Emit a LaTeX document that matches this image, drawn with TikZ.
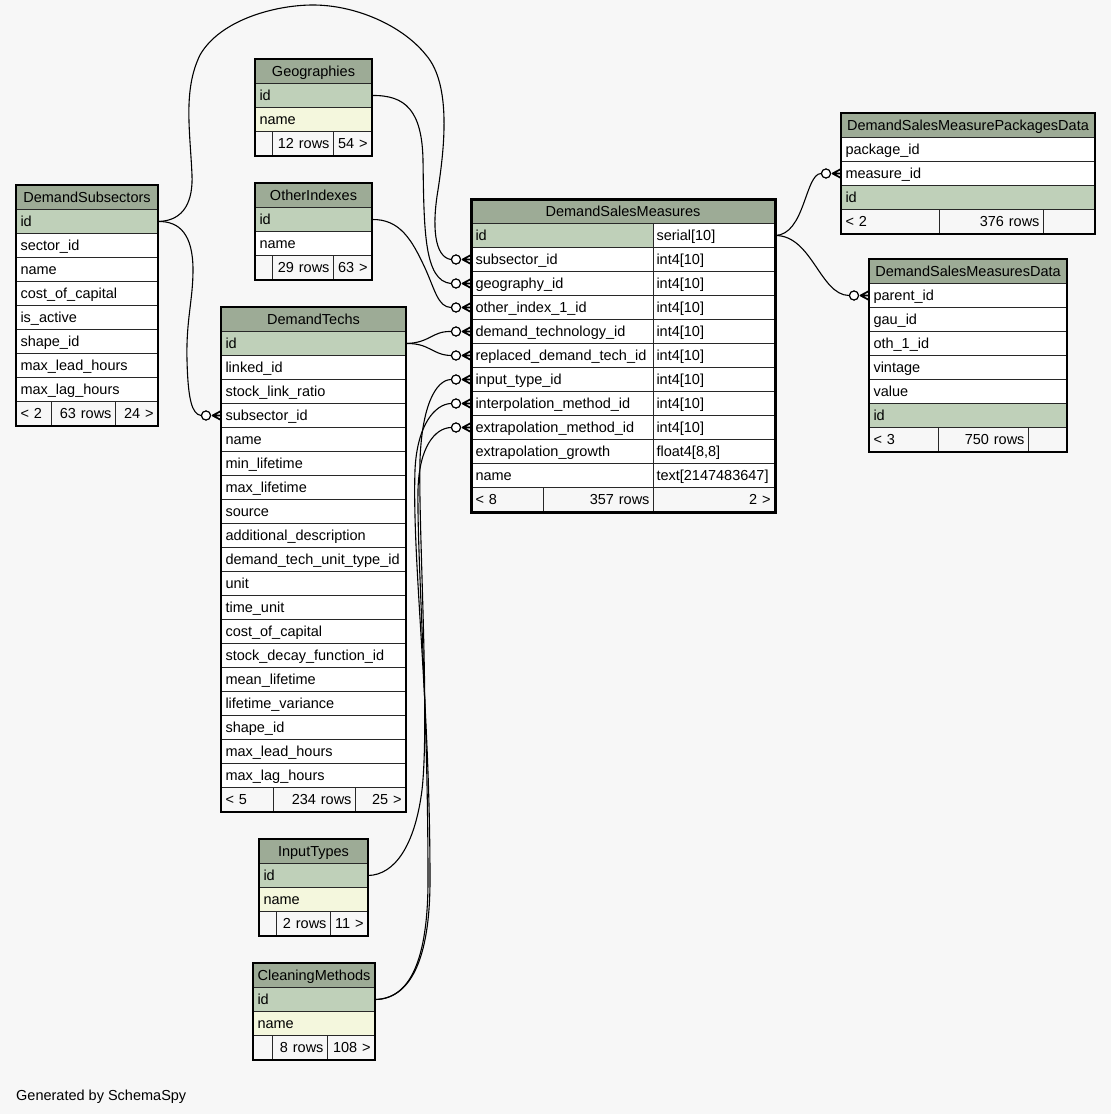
\documentclass[tikz,border=0pt]{standalone}
\usepackage{fontspec}
\setmainfont{Liberation Sans}
\definecolor{bgc}{RGB}{247,247,247}
\definecolor{headc}{RGB}{157,171,150}
\definecolor{pkc}{RGB}{191,208,185}
\definecolor{nmc}{RGB}{244,247,221}
\definecolor{footc}{RGB}{247,247,247}
\definecolor{gridc}{RGB}{40,40,40}
\newcommand\rowfont{\fontsize{14.5}{16}\selectfont}

\tikzset{
  cell/.style={draw=gridc, line width=1pt, fill=white, anchor=north west,
    minimum height=24pt, inner xsep=4pt, inner ysep=0pt, align=left,
    text height=12pt, text depth=2pt, font=\rowfont},
  headcell/.style={cell, fill=headc, align=center},
  footl/.style={cell, fill=footc, align=left},
  footr/.style={cell, fill=footc, align=right},
  tframe/.style={draw=black, line width=1.6pt},
  rel/.style={draw=black, line width=1.1pt},
  crow/.style={draw=black, line width=1.7pt, line cap=round},
  fkdot/.style={circle, draw=black, fill=white, line width=1.1pt, inner sep=0pt, minimum size=9pt},
}

% table: prefix, x, y, width, title, rows (text/fill)
\newcommand\dbtable[6]{%
  \pgfmathsetmacro\tw{#4-8}%
  \node[headcell, text width=\tw pt] (#1-0) at (#2,#3) {#5};
  \foreach \t/\f [count=\i] in {#6}{
    \node[cell, fill=\f, text width=\tw pt] (#1-\i) at (#2,{#3+24*\i}) {\t};
  }
}
% footer: prefix, x, y, three widths, three texts
\newcommand\dbfoot[9]{%
  \pgfmathsetmacro\xb{#2+#4}\pgfmathsetmacro\xc{#2+#4+#5}%
  \pgfmathsetmacro\wa{#4-8}\pgfmathsetmacro\wb{#5-8}\pgfmathsetmacro\wc{#6-8}%
  \node[footl, text width=\wa pt] (#1-f1) at (#2,#3) {#7};
  \node[footr, text width=\wb pt] (#1-f2) at (\xb,#3) {#8};
  \node[footr, text width=\wc pt] (#1-f3) at (\xc,#3) {#9};
}
% foreign key end: open circle plus crow's foot at the row's west side
\newcommand\fkend[2]{%
  \node[fkdot] (#1) at ([xshift=-15pt]#2.west) {};
  \draw[crow] ([xshift=1.5pt]#1.east) -- ([yshift=4.5pt]#2.west)
              ([xshift=1.5pt]#1.east) -- (#2.west)
              ([xshift=1.5pt]#1.east) -- ([yshift=-4.5pt]#2.west);
}

\begin{document}
\hyphenpenalty=10000
\begin{tikzpicture}[x=1pt,y=-1pt]
\useasboundingbox (0,0) rectangle (1111,1114);
\fill[bgc] (0,0) rectangle (1111,1114);

% ---- tables ----
\dbtable{dsub}{16}{185}{141}{DemandSubsectors}{id/pkc, sector\_id/white, name/white, cost\_of\_capital/white, is\_active/white, shape\_id/white, max\_lead\_hours/white, max\_lag\_hours/white}
\dbfoot{dsub}{16}{401}{35}{64}{42}{< 2}{63 rows}{24 >}

\dbtable{geo}{255}{59}{116}{Geographies}{id/pkc, name/nmc}
\dbfoot{geo}{255}{131}{17}{61}{38}{}{12 rows}{54 >}

\dbtable{oth}{255}{183}{116}{OtherIndexes}{id/pkc, name/white}
\dbfoot{oth}{255}{255}{17}{61}{38}{}{29 rows}{63 >}

\dbtable{tech}{221}{307}{184}{DemandTechs}{id/pkc, linked\_id/white, stock\_link\_ratio/white, subsector\_id/white, name/white, min\_lifetime/white, max\_lifetime/white, source/white, additional\_description/white, demand\_tech\_unit\_type\_id/white, unit/white, time\_unit/white, cost\_of\_capital/white, stock\_decay\_function\_id/white, mean\_lifetime/white, lifetime\_variance/white, shape\_id/white, max\_lead\_hours/white, max\_lag\_hours/white}
\dbfoot{tech}{221}{787}{52}{82}{50}{< 5}{234 rows}{25 >}

\dbtable{inp}{259}{839}{108}{InputTypes}{id/pkc, name/nmc}
\dbfoot{inp}{259}{911}{17}{54}{37}{}{2 rows}{11 >}

\dbtable{cln}{253}{963}{121}{CleaningMethods}{id/pkc, name/nmc}
\dbfoot{cln}{253}{1035}{19}{55}{47}{}{8 rows}{108 >}

\dbtable{pkg}{841}{113}{253}{DemandSalesMeasurePackagesData}{package\_id/white, measure\_id/white, id/pkc}
\dbfoot{pkg}{841}{209}{98}{104}{51}{< 2}{376 rows}{}

\dbtable{dat}{869}{259}{197}{DemandSalesMeasuresData}{parent\_id/white, gau\_id/white, oth\_1\_id/white, vintage/white, value/white, id/pkc}
\dbfoot{dat}{869}{427}{69}{90}{38}{< 3}{750 rows}{}

% central table with a type column
\node[headcell, text width=295pt] (dsm-0) at (471,199) {DemandSalesMeasures};
\foreach \t/\f [count=\i] in {id/pkc, subsector\_id/white, geography\_id/white, other\_index\_1\_id/white, demand\_technology\_id/white, replaced\_demand\_tech\_id/white, input\_type\_id/white, interpolation\_method\_id/white, extrapolation\_method\_id/white, extrapolation\_growth/white, name/white}{
  \node[cell, fill=\f, text width=174pt] (dsm-\i) at (471,{199+24*\i}) {\t};
}
\foreach \t [count=\i] in {{serial[10]}, {int4[10]}, {int4[10]}, {int4[10]}, {int4[10]}, {int4[10]}, {int4[10]}, {int4[10]}, {int4[10]}, {float4[8,8]}, {text[2147483647]}}{
  \node[cell, inner xsep=3pt, text width=115pt] (dsmt-\i) at (653,{199+24*\i}) {\t};
}
\dbfoot{dsm}{471}{487}{72}{110}{121}{< 8}{357 rows}{2 >}

% ---- table outlines ----
\foreach \p in {dsub,geo,oth,tech,inp,cln,pkg,dat}{
  \draw[tframe] (\p-0.north west) rectangle (\p-f3.south east);
}
\draw[black, line width=3pt] (dsm-0.north west) rectangle (dsm-f3.south east);

% ---- foreign key ends ----
\fkend{e-sub}{dsm-2}
\fkend{e-geo}{dsm-3}
\fkend{e-oth}{dsm-4}
\fkend{e-tech}{dsm-5}
\fkend{e-rtech}{dsm-6}
\fkend{e-inp}{dsm-7}
\fkend{e-int}{dsm-8}
\fkend{e-ext}{dsm-9}
\fkend{e-tsub}{tech-4}
\fkend{e-pkg}{pkg-2}
\fkend{e-dat}{dat-1}

% ---- relationships ----
\draw[rel] (dsub-1.east) .. controls (185,221) and (193,200) .. (192,175)
  .. controls (190,130) and (183,90) .. (200,55)
  .. controls (220,20) and (275,5) .. (313,5)
  .. controls (355,5) and (402,25) .. (426,55)
  .. controls (452,85) and (444,150) .. (438,190)
  .. controls (432,225) and (434,257) .. (e-sub.west);
\draw[rel] (dsub-1.east) .. controls (180,221) and (193,235) .. (193,270)
  .. controls (193,300) and (186,320) .. (187,360)
  .. controls (188,400) and (192,414) .. (e-tsub.west);
\draw[rel] (geo-1.east) .. controls (405,95) and (422,110) .. (423,160)
  .. controls (424,230) and (424,281) .. (e-geo.west);
\draw[rel] (oth-1.east) .. controls (400,219) and (412,240) .. (425,268)
  .. controls (435,290) and (438,307) .. (e-oth.west);
\draw[rel] (tech-1.east) .. controls (430,343) and (432,331) .. (e-tech.west);
\draw[rel] (tech-1.east) .. controls (430,343) and (432,355) .. (e-rtech.west);
\draw[rel] (inp-1.east) .. controls (395,875) and (415,845) .. (422,790)
  .. controls (430,720) and (418,520) .. (420,460)
  .. controls (422,405) and (436,380) .. (e-inp.west);
\draw[rel] (cln-1.east) .. controls (410,999) and (430,960) .. (430,880)
  .. controls (430,700) and (412,560) .. (415,470)
  .. controls (417,425) and (435,404) .. (e-int.west);
\draw[rel] (cln-1.east) .. controls (410,999) and (428,960) .. (428,880)
  .. controls (428,700) and (417,560) .. (418,490)
  .. controls (419,447) and (435,428) .. (e-ext.west);
\draw[rel] (dsmt-1.east) .. controls (805,235) and (805,174) .. (e-pkg.west);
\draw[rel] (dsmt-1.east) .. controls (812,235) and (820,295) .. (e-dat.west);

% redraw the ends so the circles sit on top
\foreach \e in {e-sub,e-geo,e-oth,e-tech,e-rtech,e-inp,e-int,e-ext,e-tsub,e-pkg,e-dat}{
  \node[fkdot] at (\e) {};
}

\node[anchor=base west, inner sep=0pt, font=\rowfont] (gen) at (16,1100) {Generated by SchemaSpy};
\end{tikzpicture}
\end{document}
